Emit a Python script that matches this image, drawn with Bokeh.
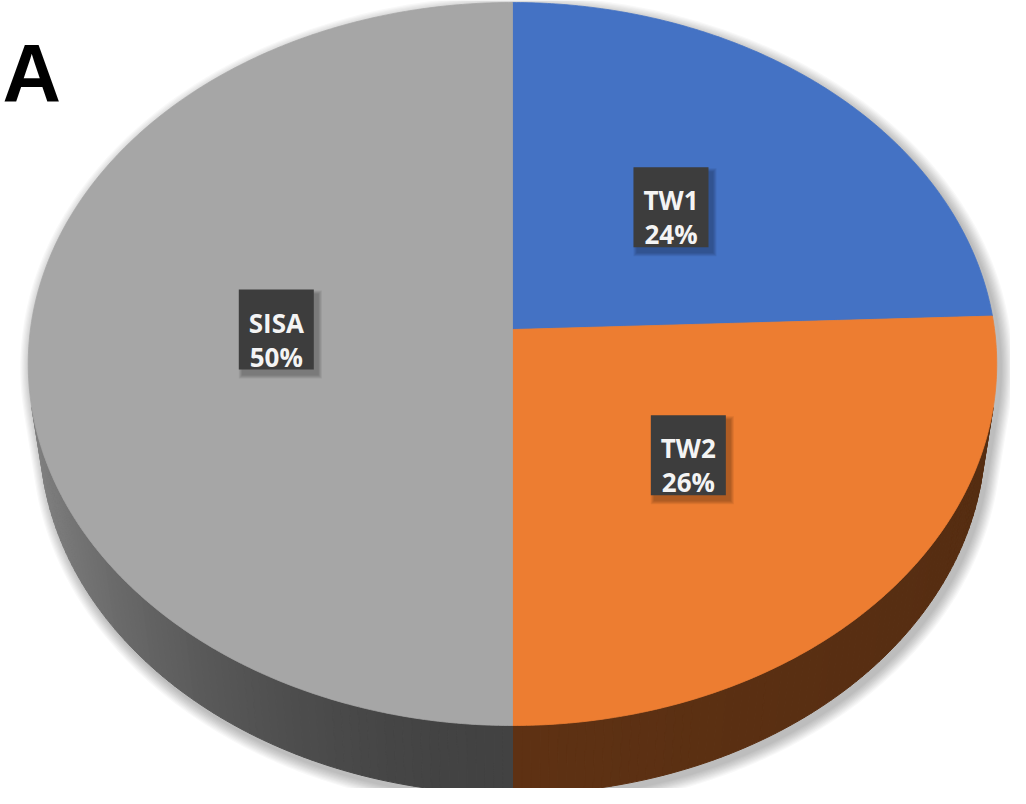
import numpy as np
from bokeh.plotting import figure
from bokeh.models import Range1d, ColumnDataSource
from bokeh.core.properties import value
from bokeh.embed import file_html
from bokeh.resources import INLINE

# ---------------- data ----------------
categories = ["TW1", "TW2", "SISA"]
values = [24.4, 25.6, 50.0]
colors = ["#4472C4", "#ED7D31", "#A6A6A6"]
panel_label = "A"

# ---------------- 3D perspective pie geometry ----------------
CX, CY = 520.0, 337.0          # projected centre of the top face (pixels)
FOC = 3379.0                   # focal length
DIST = 7.01                    # camera distance (in radii)
PHI = np.radians(48.0)         # elevation of the camera
DEPTH = 0.227                  # pie thickness (in radii)
SP, CP = np.sin(PHI), np.cos(PHI)


def proj(r, t, z):
    c, s = r * np.cos(t), r * np.sin(t)
    zc = DIST + s * CP - z * SP
    yc = s * SP + z * CP
    return CX + FOC * c / zc, CY - FOC * yc / zc


def hex2rgb(h):
    h = h.lstrip("#")
    return tuple(int(h[i:i + 2], 16) for i in (0, 2, 4))


def shade(h, f):
    r, g, b = hex2rgb(h)
    return "#%02x%02x%02x" % (int(r * f), int(g * f), int(b * f))


def side_factor(t):
    c = np.cos(t)
    return 0.40 + 0.40 * max(0.0, -c) ** 2 - 0.04 * max(0.0, c)


total = float(sum(values))
bounds = []
a = np.pi / 2
for v in values:
    span = v / total * 2 * np.pi
    bounds.append((a, a - span))
    a -= span

alpha = np.arcsin(1.0 / (DIST * CP))
vis_lo, vis_hi = -np.pi + alpha, -alpha

W, H = 1010, 788
p = figure(width=W, height=H, output_backend="svg", toolbar_location=None,
           x_range=Range1d(8, 8 + W), y_range=Range1d(8 + H, 8),
           min_border=0, background_fill_color="white",
           border_fill_color="white", outline_line_color=None)
p.axis.visible = False
p.grid.visible = False

# ---- soft shadow around the pie ----
ts_top = np.linspace(-alpha, np.pi + alpha, 240)
ts_bot = np.linspace(np.pi + alpha, 2 * np.pi - alpha, 240)
tx, ty = proj(1.0, ts_top, 0.0)
bx, by = proj(1.0, ts_bot, -DEPTH)
sil_x = np.concatenate([tx, bx])
sil_y = np.concatenate([ty, by])
scx, scy = 520.0, 405.0
for e in range(10, 0, -1):
    ex = e * 1.2
    fx = 1 + ex / 482.0
    fy = 1 + ex / 395.0
    p.patch(list((sil_x - scx) * fx + scx + 4), list((sil_y - scy) * fy + scy + 5),
            fill_color="black", fill_alpha=0.028, line_color=None)

# ---- side walls (gradient quads) ----
sx, sy, sc = [], [], []
for (a0, a1), col in zip(bounds, colors):
    for k in (-1, 0, 1):
        lo = max(a1, vis_lo + 2 * np.pi * k)
        hi = min(a0, vis_hi + 2 * np.pi * k)
        if hi <= lo:
            continue
        n = max(2, int(np.degrees(hi - lo)) + 1)
        ts = np.linspace(lo, hi, n + 1)
        for i in range(n):
            t0, t1 = ts[i], ts[i + 1]
            x0, y0 = proj(1.0, t0, 0.0)
            x1, y1 = proj(1.0, t1, 0.0)
            x2, y2 = proj(1.0, t1, -DEPTH)
            x3, y3 = proj(1.0, t0, -DEPTH)
            sx.append([x0, x1, x2, x3])
            sy.append([y0, y1, y2, y3])
            sc.append(shade(col, side_factor(0.5 * (t0 + t1))))
p.patches("xs", "ys", source=ColumnDataSource(dict(xs=sx, ys=sy, c=sc)),
          fill_color="c", line_color="c", line_width=1)

# ---- top faces ----
for (a0, a1), col in zip(bounds, colors):
    n = max(8, int(abs(np.degrees(a0 - a1))) * 2)
    ts = np.linspace(a0, a1, n)
    xs, ys = proj(1.0, ts, 0.0)
    p.patch([CX] + list(xs), [CY] + list(ys), fill_color=col,
            line_color=col, line_width=0.8)

# ---- data labels ----
lx, ly, names, pcts = [], [], [], []
for (a0, a1), cat, v in zip(bounds, categories, values):
    mid = 0.5 * (a0 + a1)
    x, y = proj(0.49, mid, 0.0)
    lx.append(float(x))
    ly.append(float(y))
    names.append(cat)
    pcts.append(f"{v / total * 100:.0f}%")

BW, BH = 75, 80
for e in range(4, 0, -1):
    p.rect([x + 4 for x in lx], [y + 5 for y in ly], width=BW + 2 * e,
           height=BH + 2 * e, fill_color="black", fill_alpha=0.07, line_color=None)
p.rect(lx, ly, width=BW, height=BH, fill_color="#3d3d3d", line_color=None)
p.text(lx, [y - 7 for y in ly], text=names,
       text_font=value("Open Sans"), text_font_style="bold",
       text_font_size="26px", text_color="#f4f4f4", text_align="center",
       text_baseline="alphabetic")
p.text(lx, [y + 27 for y in ly], text=pcts,
       text_font=value("Open Sans"), text_font_style="bold",
       text_font_size="26px", text_color="#f4f4f4", text_align="center",
       text_baseline="alphabetic")

# ---- panel letter ----
p.text([10], [80], text=[panel_label], text_font=value("Liberation Sans"),
       text_font_style="bold", text_font_size="81px", text_color="black",
       text_align="left", text_baseline="alphabetic")

open("out.html", "w").write(file_html(p, INLINE))
